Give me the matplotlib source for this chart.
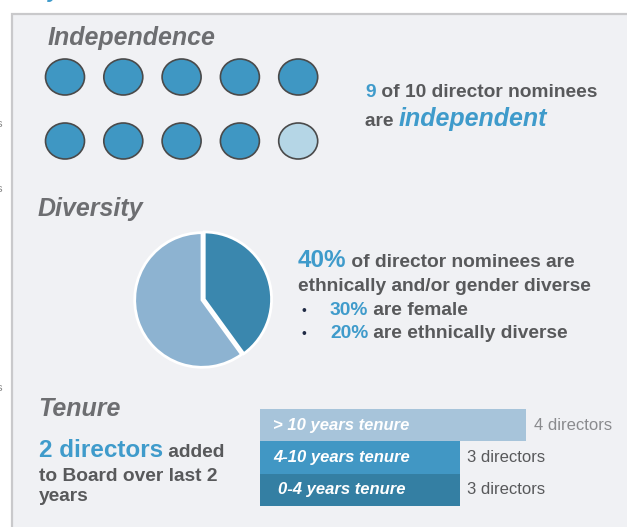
import matplotlib.pyplot as plt
from matplotlib.patches import Rectangle, Ellipse

plt.rcParams['font.family'] = ['Liberation Sans', 'DejaVu Sans']

# data
total_nominees = 10
independent_nominees = 9
diverse_share = [40, 60]
tenure_groups = ['> 10 years tenure', '4-10 years tenure', '0-4 years tenure']
tenure_counts = [4, 3, 3]

W, H = 627, 527
GRAY_T = '#6D6E71'
DARK = '#58595B'
BLUE = '#3F9BCB'

fig = plt.figure(figsize=(W / 100, H / 100), dpi=100)
bg = fig.add_axes([0, 0, 1, 1])
bg.set_xlim(0, W)
bg.set_ylim(H, 0)
bg.axis('off')

# panel
bg.add_patch(Rectangle((11.5, 13.5), 700, 600, fc='#F0F1F4', ec='#C9C9CB', lw=1.6))
# cut-off bits of neighbouring text
bg.text(48, -3, 'y', color=BLUE, fontsize=16, fontweight='bold', style='italic', va='baseline')
for yy in [127, 192, 391]:
    bg.text(2.5, yy, 's', color='#888888', fontsize=8, ha='right', va='baseline')

renderer = fig.canvas.get_renderer()


def seq(x, y, parts):
    # writes pieces of text one after the other on the same baseline
    for s, kw in parts:
        t = bg.text(x, y, s, va='baseline', **kw)
        x += t.get_window_extent(renderer).width


title_kw = dict(fontsize=18, fontweight='bold', style='italic', color=GRAY_T)
body = dict(fontsize=13.8, fontweight='bold', color=DARK)
big = dict(fontsize=17.5, fontweight='bold', color=BLUE)

# Independence
bg.text(48, 45, 'Independence', va='baseline', **title_kw)
for i in range(total_nominees):
    col, row = i % 5, i // 5
    fc = '#3F97C3' if i < independent_nominees else '#B5D6E6'
    bg.add_patch(Ellipse((65 + col * 58.3, 77 + row * 64), 39, 36,
                         fc=fc, ec='#4A4A4A', lw=1.2))
seq(365, 97, [(str(independent_nominees), dict(body, color=BLUE)),
              (' of %d director nominees' % total_nominees, body)])
seq(365, 126, [('are ', body),
               ('independent', dict(fontsize=18, fontweight='bold', style='italic', color=BLUE))])

# Diversity
bg.text(38, 216, 'Diversity', va='baseline', **title_kw)
pax = fig.add_axes([(202 - 70) / W, 1 - (300 + 70) / H, 140 / W, 140 / H])
pax.pie(diverse_share, colors=['#3A87AE', '#8DB3D1'], startangle=90, counterclock=False,
        explode=(0.035, 0), wedgeprops=dict(edgecolor='white', linewidth=2))
pax.set_xlim(-1.04, 1.04)
pax.set_ylim(-1.04, 1.04)
pax.set_aspect('auto')

seq(298, 267, [('%d%%' % diverse_share[0], big),
               (' of director nominees are', body)])
bg.text(298, 291, 'ethnically and/or gender diverse', va='baseline', **body)
for yy, pct, rest in [(315, '30%', ' are female'), (338, '20%', ' are ethnically diverse')]:
    bg.text(301, yy, '•', va='baseline', fontsize=10, color='#1F2A44')
    seq(330, yy, [(pct, dict(body, color=BLUE)), (rest, body)])

# Tenure
bg.text(38, 416, 'Tenure', va='baseline', **title_kw)
seq(39, 457, [('2 directors', big), (' added', body)])
bg.text(39, 481, 'to Board over last 2', va='baseline', **body)
bg.text(39, 501, 'years', va='baseline', **body)

unit = 66.5
bx0, by0, by1 = 260, 409, 506
bax = fig.add_axes([bx0 / W, 1 - by1 / H, (W - bx0) / W, (by1 - by0) / H])
bax.set_xlim(0, (W - bx0) / unit)
bax.set_ylim(2.5, -0.5)
bax.axis('off')
bar_colors = ['#A7C4DA', '#4197C4', '#347FA3']
val_colors = ['#8A8B8E', DARK, DARK]
bax.barh(range(len(tenure_counts)), tenure_counts, height=1.0, color=bar_colors)
for i, (lab, n) in enumerate(zip(tenure_groups, tenure_counts)):
    bax.text(0.2 if i < 2 else 0.27, i, lab, va='center', ha='left', color='white',
             fontsize=12, fontweight='bold', style='italic')
    bax.text(n + 0.12, i, '%d directors' % n, va='center', ha='left',
             color=val_colors[i], fontsize=12)

fig.savefig('out.png', dpi=100)
